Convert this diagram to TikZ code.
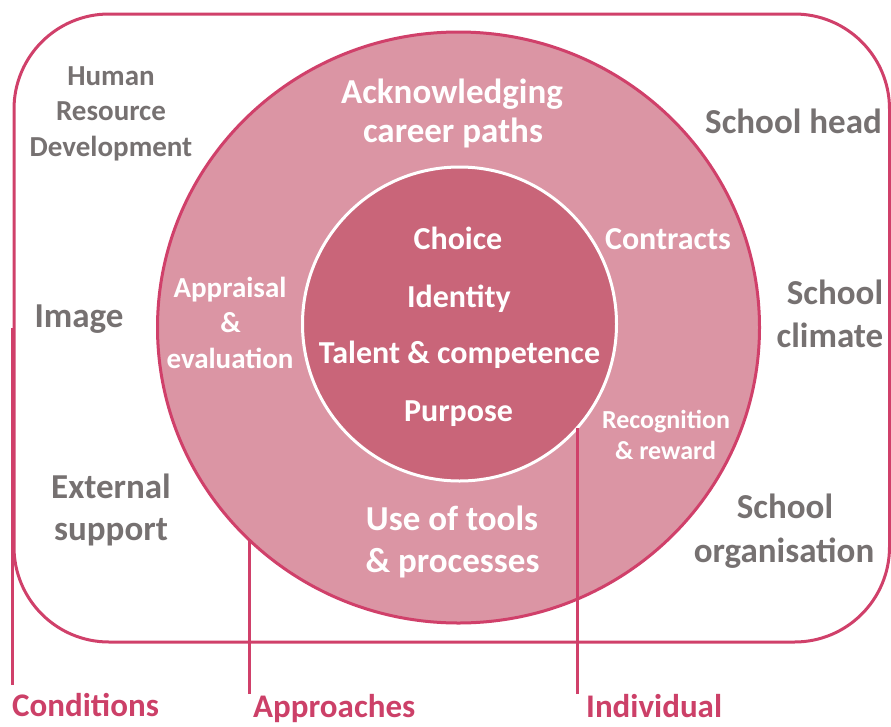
\documentclass[tikz,border=0pt]{standalone}
\usepackage{fontspec}
\setmainfont{Carlito}
\usetikzlibrary{shapes.geometric}
\definecolor{ringfill}{HTML}{DB95A4}
\definecolor{corefill}{HTML}{C96579}
\definecolor{edge}{HTML}{D0406A}
\definecolor{txtgray}{HTML}{767171}
\definecolor{labpink}{HTML}{CC4068}
\begin{document}
\begin{tikzpicture}[x=1pt,y=-1pt,
  pinkline/.style={draw=edge,line width=3pt},
  txt/.style={anchor=base,inner sep=0pt,font=\bfseries},
  g29/.style={txt,text=txtgray,font=\fontsize{29}{35}\selectfont\bfseries},
  g35/.style={txt,text=txtgray,font=\fontsize{35}{42}\selectfont\bfseries},
  w35/.style={txt,text=white,font=\fontsize{35}{42}\selectfont\bfseries},
  w32/.style={txt,text=white,font=\fontsize{32}{38}\selectfont\bfseries},
  w29/.style={txt,text=white,font=\fontsize{29}{35}\selectfont\bfseries},
  w26/.style={txt,text=white,font=\fontsize{26}{31}\selectfont\bfseries},
  lab/.style={txt,anchor=base west,text=labpink,font=\fontsize{33}{40}\selectfont\bfseries}]
\useasboundingbox (0,0) rectangle (891,726);
% frame
\node[pinkline,rectangle,rounded corners=95pt,minimum width=875.5pt,minimum height=628pt,inner sep=0pt] (frame) at (451.75,328) {};
% rings
\node[pinkline,ellipse,fill=ringfill,minimum width=602pt,minimum height=591pt,inner sep=0pt] (ring) at (458.5,327.5) {};
\node[circle,draw=white,line width=3pt,fill=corefill,minimum size=314pt,inner sep=0pt] (core) at (459.5,324) {};
% connectors
\coordinate (condBot) at (14,685);
\coordinate (appBot) at (249,694);
\coordinate (indBot) at (577,694);
\draw[pinkline] (frame.west) -- (frame.west |- condBot);
\draw[pinkline] (appBot) -- (appBot |- ring.225.4);
\draw[pinkline] (indBot) -- (indBot |- core.-41.5);
% outer labels
\node[g29] (hrd1) at (111,85) {Human};
\node[g29] (hrd2) at (111,120) {Resource};
\node[g29] (hrd3) at (111,156) {Development};
\node[g35] (head) at (793.5,133) {School head};
\node[g35] (image) at (79,327) {Image};
\node[g35] (clim1) at (835,304) {School};
\node[g35] (clim2) at (830,347) {climate};
\node[g35] (ext1) at (111,498) {External};
\node[g35] (ext2) at (111,540) {support};
\node[g35] (org1) at (785,518) {School};
\node[g35] (org2) at (784,562) {organisation};
% ring labels
\node[w35] (ack1) at (452,103) {Acknowledging};
\node[w35] (ack2) at (453,142) {career paths};
\node[w35] (use1) at (452,530) {Use of tools};
\node[w35] (use2) at (452.5,572) {\& processes};
\node[w32] (contr) at (668,249) {Contracts};
\node[w29] (app1) at (230,297) {Appraisal};
\node[w29] (app2) at (230.5,332) {\&};
\node[w29] (app3) at (230,368) {evaluation};
\node[w26] (rec1) at (666,428) {Recognition};
\node[w26] (rec2) at (665.5,459) {\& reward};
% core labels
\node[w32] (choice) at (458,249) {Choice};
\node[w32] (ident) at (459,307) {Identity};
\node[w32] (talent) at (459.5,363) {Talent \& competence};
\node[w32] (purp) at (458.5,421) {Purpose};
% bottom labels
\node[lab] (cond) at (12,716) {Conditions};
\node[lab] (appr) at (253,717) {Approaches};
\node[lab] (indiv) at (586,717) {Individual};
\end{tikzpicture}
\end{document}
